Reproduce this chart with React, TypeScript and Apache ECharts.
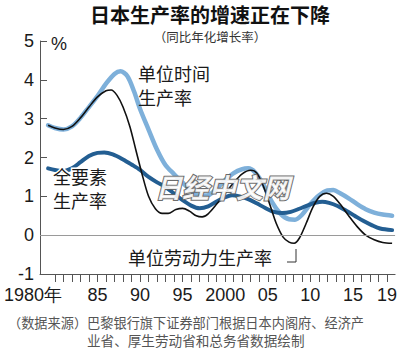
import React, { useEffect, useRef } from "react";
import * as echarts from "echarts";

const titleText = "日本生产率的增速正在下降";
const subtitleText = "（同比年化增长率）";
const footerLine1 = "（数据来源）巴黎银行旗下证券部门根据日本内阁府、经济产";
const footerLine2 = "业省、厚生劳动省和总务省数据绘制";
const watermarkText = "日经中文网";

const xTickYears = [
  1980, 1981, 1982, 1983, 1984, 1985, 1986, 1987, 1988, 1989,
  1990, 1991, 1992, 1993, 1994, 1995, 1996, 1997, 1998, 1999,
  2000, 2001, 2002, 2003, 2004, 2005, 2006, 2007, 2008, 2009,
  2010, 2011, 2012, 2013, 2014, 2015, 2016, 2017, 2018, 2019,
];
const xLabelYears = [1980, 1985, 1990, 1995, 2000, 2005, 2010, 2015, 2019];
const xLabelTexts = ["1980年", "85", "90", "95", "2000", "05", "10", "15", "19"];

// 单位时间生产率 (light blue)
const hourYears = [
  1979.2, 1980, 1981, 1982, 1983, 1984, 1985, 1986, 1987, 1987.7,
  1988.5, 1989.3, 1990, 1991, 1992, 1993, 1994, 1995, 1996, 1997,
  1998, 1999, 2000, 2001, 2002, 2002.7, 2003.5, 2004.5, 2005.5, 2006.5,
  2007.5, 2008.2, 2009, 2010, 2011, 2012, 2012.7, 2013.5, 2014.5, 2015.5,
  2016.5, 2017.5, 2018.5, 2019.6,
];
const hourValues = [
  2.83, 2.76, 2.72, 2.8, 3.02, 3.3, 3.58, 3.9, 4.15, 4.22,
  4.1, 3.7, 3.25, 2.72, 2.2, 1.8, 1.57, 1.35, 1.15, 1.02,
  1.03, 1.2, 1.42, 1.6, 1.7, 1.72, 1.62, 1.3, 0.85, 0.55,
  0.41, 0.4, 0.52, 0.8, 1.02, 1.15, 1.16, 1.08, 0.95, 0.8,
  0.67, 0.58, 0.53, 0.5,
];

// 全要素生产率 (dark blue)
const tfpYears = [
  1979.2, 1980, 1981, 1982, 1983, 1984, 1985, 1985.8, 1986.8, 1988,
  1989, 1990, 1991, 1992, 1993, 1994, 1995, 1996, 1997, 1998,
  1999, 2000, 2000.8, 2001.7, 2002.7, 2003.7, 2004.7, 2005.7, 2006.7, 2007.7,
  2008.7, 2009.7, 2010.7, 2011.4, 2012.2, 2013.2, 2014.2, 2015.2, 2016.2, 2017.2,
  2018.2, 2019.6,
];
const tfpValues = [
  1.72, 1.68, 1.65, 1.72, 1.88, 2.04, 2.12, 2.13, 2.08, 1.95,
  1.82, 1.68, 1.5, 1.36, 1.24, 1.07, 0.9, 0.76, 0.69, 0.74,
  0.87, 0.98, 1.03, 1.0, 0.93, 0.82, 0.7, 0.6, 0.57, 0.6,
  0.68, 0.77, 0.84, 0.86, 0.83, 0.75, 0.63, 0.5, 0.37, 0.26,
  0.17, 0.13,
];

// 单位劳动力生产率 (black)
const laborYears = [
  1979.2, 1980, 1981, 1982, 1983, 1984, 1985, 1986, 1986.6, 1987.3,
  1988, 1988.8, 1989.5, 1990.2, 1991, 1991.8, 1992.6, 1993.3, 1994.2, 1995,
  1995.8, 1996.6, 1997.3, 1998, 1999, 2000, 2001, 2002, 2003, 2003.7,
  2004.5, 2005.3, 2006, 2006.8, 2007.5, 2008.1, 2008.7, 2009.5, 2010.3, 2011.1,
  2011.9, 2012.7, 2013.5, 2014.5, 2015.5, 2016.5, 2017.5, 2018.5, 2019.6,
];
const laborValues = [
  2.83, 2.76, 2.72, 2.8, 3.02, 3.3, 3.56, 3.72, 3.74, 3.6,
  3.3, 2.8, 2.2, 1.6, 1.0, 0.68, 0.56, 0.56, 0.66, 0.69,
  0.62, 0.5, 0.47, 0.55, 0.8, 1.08, 1.35, 1.58, 1.67, 1.6,
  1.25, 0.75, 0.3, -0.05, -0.18, -0.21, -0.08, 0.3, 0.72, 1.0,
  1.08, 1.0, 0.8, 0.5, 0.22, 0.0, -0.12, -0.19, -0.21,
];

const pairs = (xs: number[], ys: number[]) => xs.map((x, i) => [x, ys[i]]);

const NUM = '"Liberation Sans", Arial, sans-serif';

const txt = (
  text: string,
  x: number,
  y: number,
  font: string,
  fill: string,
  align: string = "left",
  extra: any = {}
) => ({
  type: "text",
  x,
  y,
  z: 10,
  style: {
    text,
    font,
    fill,
    align,
    verticalAlign: "middle",
    textAlign: align,
    textVerticalAlign: "middle",
    ...extra,
  },
});

export default function App() {
  const ref = useRef<HTMLDivElement>(null);

  useEffect(() => {
    if (!ref.current) return;
    const chart = echarts.init(ref.current, undefined, { renderer: "svg" });
    const option: any = {
      animation: false,
      backgroundColor: "#ffffff",
      grid: { left: 40, right: 4, top: 41, bottom: 82, containLabel: false },
      xAxis: {
        type: "value",
        min: 1978.25,
        max: 2019.95,
        axisLine: { show: true, onZero: false, lineStyle: { color: "#555", width: 1 } },
        axisTick: {
          show: true,
          customValues: xTickYears,
          length: 8,
          lineStyle: { color: "#555", width: 1 },
        },
        axisLabel: {
          customValues: xLabelYears,
          margin: 12,
          color: "#1a1a1a",
          fontSize: 18,
          fontFamily: NUM,
          formatter: (v: number) => {
            const i = xLabelYears.indexOf(Math.round(v));
            if (i === 0) return "{a|" + xLabelTexts[0] + "}";
            return i >= 0 ? xLabelTexts[i] : "";
          },
          rich: {
            a: {
              fontSize: 18,
              fontFamily: NUM,
              color: "#1a1a1a",
              padding: [0, 44, 0, 0],
            },
          },
        },
        splitLine: { show: false },
      },
      yAxis: {
        type: "value",
        min: -1,
        max: 5,
        interval: 1,
        axisLine: { show: true, lineStyle: { color: "#555", width: 1 } },
        axisTick: { show: true, inside: true, length: 7, lineStyle: { color: "#555", width: 1 } },
        axisLabel: { margin: 6, color: "#1a1a1a", fontSize: 18, fontFamily: NUM },
        splitLine: { show: false },
      },
      series: [
        {
          name: "单位时间生产率",
          type: "line",
          smooth: 0.3,
          showSymbol: false,
          data: pairs(hourYears, hourValues),
          lineStyle: { color: "#7eb0da", width: 4.5, cap: "round" },
          itemStyle: { color: "#7eb0da" },
          z: 2,
          markLine: {
            silent: true,
            symbol: ["none", "none"],
            label: { show: false },
            lineStyle: { color: "#9a9a9a", width: 1, type: "solid" },
            data: [{ yAxis: 0 }],
          },
        },
        {
          name: "全要素生产率",
          type: "line",
          smooth: 0.3,
          showSymbol: false,
          data: pairs(tfpYears, tfpValues),
          lineStyle: { color: "#235e92", width: 4, cap: "round" },
          itemStyle: { color: "#235e92" },
          z: 3,
        },
        {
          name: "单位劳动力生产率",
          type: "line",
          smooth: 0.3,
          showSymbol: false,
          data: pairs(laborYears, laborValues),
          lineStyle: { color: "#111111", width: 1.6 },
          itemStyle: { color: "#111111" },
          z: 4,
        },
      ],
      graphic: [
        txt(titleText, 210, 14, 'bold 20px "Noto Sans CJK SC", sans-serif', "#111", "center", { lineHeight: 20 }),
        txt(subtitleText, 210, 36.5, '12.5px "Noto Sans CJK SC", sans-serif', "#333", "center", { lineHeight: 13 }),
        txt("%", 51, 44, '18px "Liberation Sans", Arial, sans-serif', "#1a1a1a"),
        txt("单位时间", 138, 73, '18px "Noto Sans CJK SC", sans-serif', "#1a1a1a", "left", { lineHeight: 18 }),
        txt("生产率", 138, 97, '18px "Noto Sans CJK SC", sans-serif', "#1a1a1a", "left", { lineHeight: 18 }),
        txt("全要素", 53, 176, '18px "Noto Sans CJK SC", sans-serif', "#1a1a1a", "left", {
          lineHeight: 18,
          stroke: "#ffffff",
          lineWidth: 3,
        }),
        txt("生产率", 53, 200, '18px "Noto Sans CJK SC", sans-serif', "#1a1a1a", "left", {
          lineHeight: 18,
          stroke: "#ffffff",
          lineWidth: 3,
        }),
        txt("单位劳动力生产率", 128, 257, '18px "Noto Sans CJK SC", sans-serif', "#1a1a1a", "left", {
          lineHeight: 18,
          stroke: "#ffffff",
          lineWidth: 3,
        }),
        {
          type: "polyline",
          z: 10,
          shape: { points: [[287, 262], [296, 262], [296, 249]] },
          style: { stroke: "#333", lineWidth: 1, fill: "none" },
        },
        {
          ...txt(watermarkText, 155, 186, 'italic bold 27px "Noto Sans CJK SC", sans-serif', "rgba(255,255,255,0.9)", "left", {
            stroke: "rgba(100,100,100,0.95)",
            lineWidth: 2,
            lineHeight: 27,
          }),
          z: 20,
        },
        txt(footerLine1, 8, 322, '13.2px "Noto Sans CJK SC", sans-serif', "#555", "left", { lineHeight: 13 }),
        txt(footerLine2, 87, 340, '13.6px "Noto Sans CJK SC", sans-serif', "#555", "left", { lineHeight: 13 }),
      ],
    };
    chart.setOption(option);
    return () => chart.dispose();
  }, []);

  return (
    <div
      ref={ref}
      style={{ position: "fixed", left: 0, top: 0, width: 400, height: 356, background: "#fff" }}
    />
  );
}
